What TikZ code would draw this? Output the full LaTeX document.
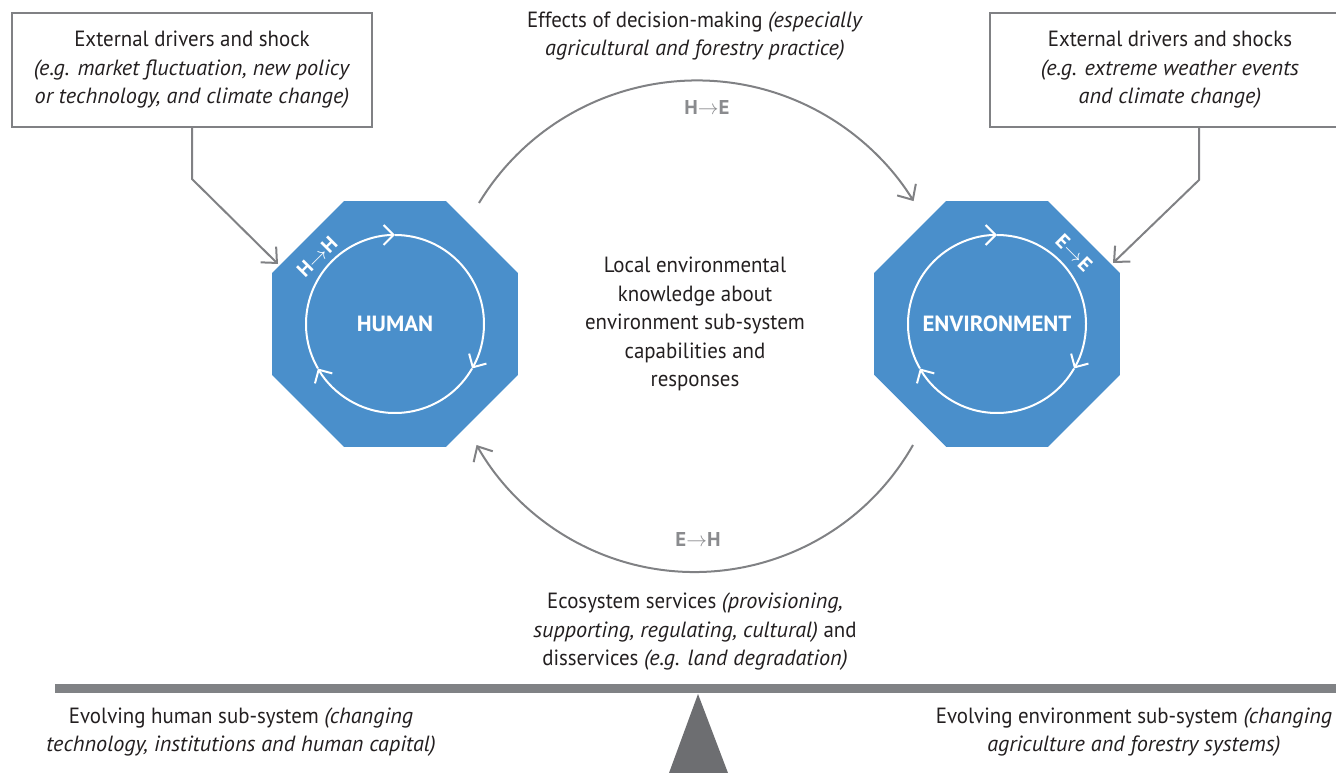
\documentclass[tikz,border=0pt]{standalone}
\usepackage{fontspec}
\setmainfont{PT Sans}[FakeStretch=0.95, ItalicFeatures={FakeStretch=1.01}, BoldFeatures={FakeStretch=1.04}]
\usetikzlibrary{shapes.geometric,arrows.meta,calc}
\definecolor{octblue}{HTML}{4A8FCB}
\definecolor{linegray}{HTML}{808184}
\definecolor{txtgray}{HTML}{231F20}
\definecolor{taggray}{HTML}{8A8B8E}
\definecolor{bargray}{HTML}{808285}
\definecolor{pivotgray}{HTML}{6D6E71}
\begin{document}
\begin{tikzpicture}[x=1pt,y=1pt,
        font=\fontsize{22}{28.5}\selectfont, text=txtgray,
        octagon/.style={regular polygon, regular polygon sides=8, fill=octblue, minimum size=266pt, inner sep=0pt,
                text=white, font=\fontsize{22}{26}\selectfont\bfseries},
        drvbox/.style={draw=linegray, line width=2pt, minimum width=360pt, minimum height=114pt, align=center},
        flow/.style={draw=linegray, line width=2pt, -{Straight Barb[length=12pt,width=22pt]}},
        cyc/.style={draw=white, line width=2pt, -{Straight Barb[length=10pt,width=20pt]}},
        tag/.style={font=\fontsize{20}{24}\selectfont\bfseries, inner sep=1pt},
    ]
    \useasboundingbox (0,0) rectangle (1336,773);

    \node (human) at (395,449) [octagon] {HUMAN};
    \node (env) at (997,449) [octagon] {ENVIRONMENT};
    \foreach \n in {human,env} {
            \foreach \a in {210,90,-30} {
                    \draw[cyc] (\n.center) ++(\a:89) arc[start angle=\a, end angle=\a-120, radius=89];
                }
        }
    \node (hh) at (317,516) [tag, text=white, rotate=45] {H$\rightarrow$H};
    \node (ee) at (1074,520) [tag, text=white, rotate=-45] {E$\rightarrow$E};

    \node (hbox) at (192,703) [drvbox] {External drivers and shock\\
        \textit{(e.g. market fluctuation, new policy}\\
        \textit{or technology, and climate change)}};
    \node (ebox) at (1170,703) [drvbox] {External drivers and shocks\\
        \textit{(e.g. extreme weather events}\\
        \textit{and climate change)}};
    \coordinate (hin) at ($(human.center)+(-117,60)$);
    \coordinate (ein) at ($(env.center)+(116,61)$);
    \draw[flow] (hbox.south) -- ++(0,-51) -- (hin);
    \draw[flow] (ebox.south -| 1199,0) -- ++(0,-52) -- (ein);

    \coordinate (hout) at (479,570);
    \coordinate (eout) at (913,328);
    \draw[flow] (hout) arc[start angle=148.7, end angle=31.8, radius=255];
    \draw[flow] (eout) arc[start angle=-29.6, end angle=-150.4, radius=251];
    \node (he) at (707,665) [tag, text=taggray] {H$\rightarrow$E};
    \node (eh) at (698,233) [tag, text=taggray] {E$\rightarrow$H};

    \node (effects) at (695,737) [align=center] {Effects of decision-making \textit{(especially}\\
        \textit{agricultural and forestry practice)}};
    \node (know) at (695,449) [align=center] {Local environmental\\ knowledge about\\
        environment sub-system\\ capabilities and\\ responses};
    \node (services) at (695,141) [align=center] {Ecosystem services \textit{(provisioning,}\\
        \textit{supporting, regulating, cultural)} and\\
        disservices \textit{(e.g. land degradation)}};

    \fill[bargray] (55,80) rectangle (1340,89);
    \fill[pivotgray] (669,0) -- (698,79) -- (728,0) -- cycle;
    \node (hsys) at (241,41) [align=center] {Evolving human sub-system \textit{(changing}\\
        \textit{technology, institutions and human capital)}};
    \node (esys) at (1134,41) [align=center] {Evolving environment sub-system \textit{(changing}\\
        \textit{agriculture and forestry systems)}};
\end{tikzpicture}
\end{document}
